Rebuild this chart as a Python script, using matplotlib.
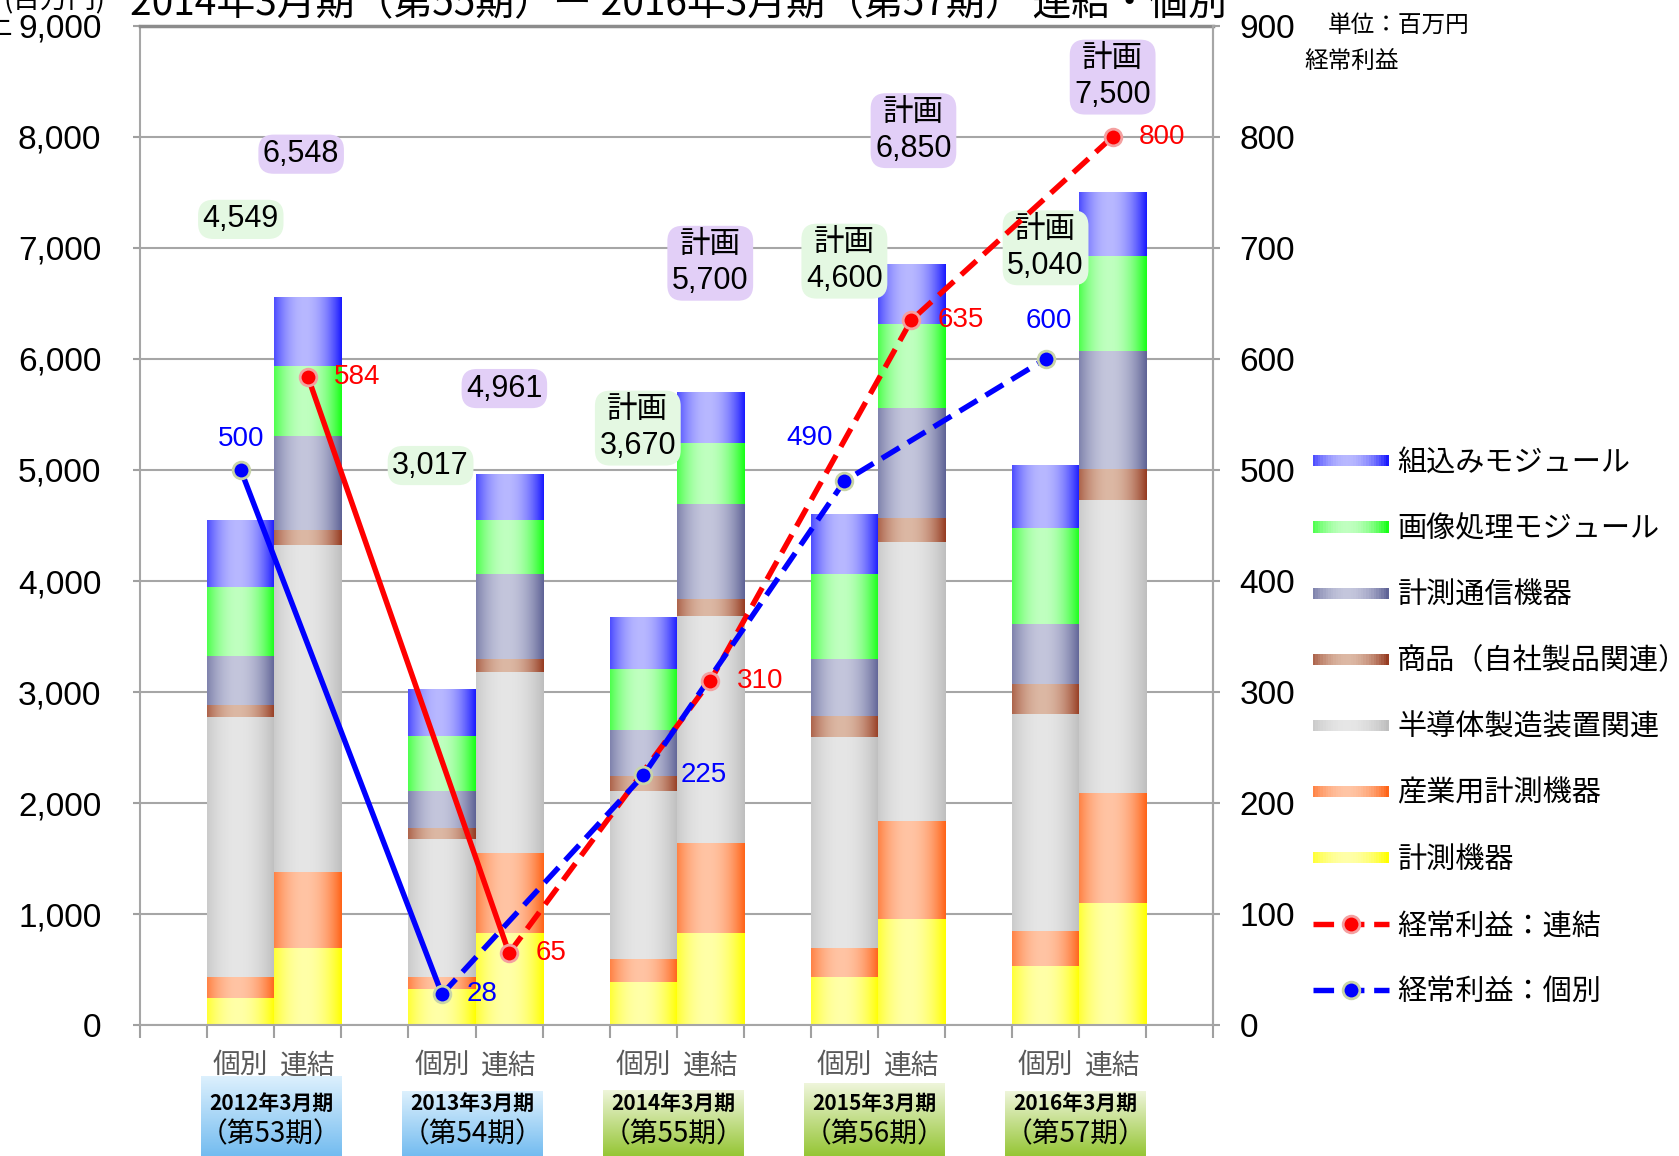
import numpy as np
import matplotlib.pyplot as plt
import matplotlib.colors as mcolors
from matplotlib.patches import Rectangle, Patch
from matplotlib.lines import Line2D
from matplotlib.legend_handler import HandlerBase
from matplotlib.ticker import FuncFormatter

plt.rcParams['font.family'] = ['Noto Sans CJK JP', 'DejaVu Sans']
NUM_FONT = ['Liberation Sans', 'Noto Sans CJK JP']

# Data
periods = ['2012年3月期', '2013年3月期', '2014年3月期', '2015年3月期', '2016年3月期']
terms = ['（第53期）', '（第54期）', '（第55期）', '（第56期）', '（第57期）']
kinds = ['個別', '連結']
segment_names = ['計測機器', '産業用計測機器', '半導体製造装置関連', '商品（自社製品関連）',
                 '計測通信機器', '画像処理モジュール', '組込みモジュール']

# 売上高 (百万円), 個別 = kb, 連結 = rk, stacked from bottom
kb_keisoku = [242, 328, 391, 439, 536]
rk_keisoku = [701, 833, 834, 955, 1099]
kb_sangyo = [193, 107, 209, 254, 318]
rk_sangyo = [681, 715, 809, 885, 995]
kb_handotai = [2340, 1244, 1510, 1905, 1953]
rk_handotai = [2941, 1631, 2038, 2510, 2638]
kb_shohin = [107, 101, 133, 189, 270]
rk_shohin = [134, 121, 153, 221, 278]
kb_tsushin = [442, 328, 415, 511, 540]
rk_tsushin = [851, 760, 858, 983, 1065]
kb_gazo = [626, 494, 548, 770, 857]
rk_gazo = [626, 487, 552, 756, 855]
kb_kumikomi = [599, 415, 464, 532, 566]
rk_kumikomi = [614, 414, 456, 540, 570]

kb_total = [4549, 3017, 3670, 4600, 5040]
rk_total = [6548, 4961, 5700, 6850, 7500]
is_plan = [False, False, True, True, True]

# 経常利益 (百万円)
profit_rk = [584, 65, 310, 635, 800]
profit_kb = [500, 28, 225, 490, 600]

# Styles
seg_colors = [('#ffff00', '#ffffa8'), ('#ff6418', '#ffc4a4'), ('#bebebe', '#e6e6e6'),
              ('#963c22', '#dcb8a4'), ('#5f6396', '#c4c6dc'), ('#18ff18', '#c0ffc0'),
              ('#1a1aff', '#b8b8ff')]
kb_label_y = [7256, 5040, 5377, 6880, 7000]
rk_label_y = [7843, 5733, 6861, 8055, 8537]
kb_label_dx = [0, -0.17, -0.08, 0, 0]
rk_label_dx = [-0.1, -0.07, 0, 0.03, 0]
kb_offsets = [((0, 22), 'center'), ((18, 0), 'left'), ((27, 0), 'left'),
              ((-25, 31), 'center'), ((2, 27), 'center')]
box_top = [0.069, 0.056, 0.057, 0.063, 0.056]


def grad(edge, centre, n=64):
    t = np.linspace(0, 1, n)
    w = np.clip(1 - ((t - 0.45) / 0.55) ** 2, 0, 1)
    e = np.array(mcolors.to_rgb(edge))
    c = np.array(mcolors.to_rgb(centre))
    return e[None, :] * (1 - w[:, None]) + c[None, :] * w[:, None]


class GradientHandler(HandlerBase):
    def __init__(self, edge, centre):
        super().__init__()
        self.g = grad(edge, centre, 30)

    def create_artists(self, legend, orig_handle, xdescent, ydescent, width, height, fontsize, trans):
        n = len(self.g)
        h = height * 0.55
        y0 = -ydescent + (height - h) / 2
        arts = []
        for i, c in enumerate(self.g):
            arts.append(Rectangle((-xdescent + i * width / n, y0), width / n * 1.05, h,
                                  facecolor=c, edgecolor='none', transform=trans))
        return arts


fig = plt.figure(figsize=(16.79, 11.56), dpi=100)
ax = fig.add_axes([0.0835, 0.113, 0.6391, 0.8648])

grp = np.arange(5)
x_kb = 3 * grp + 1.5
x_rk = 3 * grp + 2.5

kb_series = [kb_keisoku, kb_sangyo, kb_handotai, kb_shohin, kb_tsushin, kb_gazo, kb_kumikomi]
rk_series = [rk_keisoku, rk_sangyo, rk_handotai, rk_shohin, rk_tsushin, rk_gazo, rk_kumikomi]

for xs, series in [(x_kb, kb_series), (x_rk, rk_series)]:
    bottom = np.zeros(5)
    for vals, (edge, centre) in zip(series, seg_colors):
        vals = np.array(vals)
        bars = ax.bar(xs, vals, width=1.0, bottom=bottom, color=centre, edgecolor='none', zorder=2)
        g = grad(edge, centre)
        for p in bars:
            ax.imshow(g[None, :, :], extent=[p.get_x(), p.get_x() + p.get_width(),
                                             p.get_y(), p.get_y() + p.get_height()],
                      aspect='auto', interpolation='bilinear', zorder=2.1)
        bottom += vals

# total labels
for i in range(5):
    pre = '計画\n' if is_plan[i] else ''
    ax.text(x_kb[i] + kb_label_dx[i], kb_label_y[i], pre + f'{kb_total[i]:,}', ha='center', va='center',
            fontsize=22, family=NUM_FONT, linespacing=1.25, zorder=5,
            bbox=dict(boxstyle='round,pad=0.15,rounding_size=0.5', fc='#e4f8e2', ec='none'))
    ax.text(x_rk[i] + rk_label_dx[i], rk_label_y[i], pre + f'{rk_total[i]:,}', ha='center', va='center',
            fontsize=22, family=NUM_FONT, linespacing=1.25, zorder=5,
            bbox=dict(boxstyle='round,pad=0.15,rounding_size=0.5', fc='#e2cff7', ec='none'))

ax.set_xlim(0, 16)
ax.set_ylim(0, 9000)
ax.set_axisbelow(True)
ax.yaxis.grid(True, color='#a6a6a6', lw=1.5)
ax.set_yticks(range(0, 9001, 1000))
ax.yaxis.set_major_formatter(FuncFormatter(lambda v, p: f'{int(v):,}'))
ax.set_xticks(range(0, 17))
ax.set_xticklabels([])
ax.set_xticks(np.ravel(np.column_stack([x_kb, x_rk])), minor=True)
ax.set_xticklabels(kinds * 5, minor=True)
ax.tick_params(axis='x', which='major', length=9, width=1.5, color='#a0a0a0')
ax.tick_params(axis='x', which='minor', length=0, pad=18, labelsize=20, labelcolor='#595959')
ax.tick_params(axis='y', length=5, width=1.5, color='#a0a0a0', pad=23, labelsize=24)
for lab in ax.get_yticklabels():
    lab.set_family(NUM_FONT)
for s in ['left', 'right', 'bottom']:
    ax.spines[s].set_color('#a6a6a6')
    ax.spines[s].set_linewidth(1.5)
ax.spines['top'].set_color('#8c8c8c')
ax.spines['top'].set_linewidth(2.5)

# profit lines on secondary axis
ax2 = ax.twinx()
ax2.set_ylim(0, 900)
ax2.set_yticks(range(0, 901, 100))
ax2.tick_params(axis='y', length=5, width=1.5, color='#a0a0a0', pad=14, labelsize=24)
for lab in ax2.get_yticklabels():
    lab.set_family(NUM_FONT)
for s in ['left', 'top', 'bottom']:
    ax2.spines[s].set_visible(False)
ax2.spines['right'].set_color('#a6a6a6')
ax2.spines['right'].set_linewidth(1.5)

dash = (0, (3.8, 1.8))
for xs, ys, col, mec in [(x_rk, profit_rk, '#ff0000', '#f4a0a0'), (x_kb, profit_kb, '#0000ff', '#c8d4a8')]:
    ax2.plot(xs[:2], ys[:2], color=col, lw=3.9, solid_capstyle='round', zorder=3)
    ax2.plot(xs[1:], ys[1:], color=col, lw=3.9, ls=dash, zorder=3)
for xs, ys, col, mec in [(x_rk, profit_rk, '#ff0000', '#f4a0a0'), (x_kb, profit_kb, '#0000ff', '#c8d4a8')]:
    ax2.plot(xs, ys, 'o', color=col, ms=12, mec=mec, mew=2, zorder=4)

for i in range(5):
    ax2.annotate(f'{profit_rk[i]}', (x_rk[i], profit_rk[i]), xytext=(19, 0), textcoords='offset points',
                 ha='left', va='center', color='#ff0000', fontsize=20, family=NUM_FONT)
    off, ha = kb_offsets[i]
    ax2.annotate(f'{profit_kb[i]}', (x_kb[i], profit_kb[i]), xytext=off, textcoords='offset points',
                 ha=ha, va='center', color='#0000ff', fontsize=20, family=NUM_FONT)

# legend
handles = []
hmap = {}
for name, (edge, centre) in reversed(list(zip(segment_names, seg_colors))):
    p = Patch(facecolor=centre, label=name)
    handles.append(p)
    hmap[p] = GradientHandler(edge, centre)
handles.append(Line2D([], [], color='#ff0000', lw=3.9, ls=dash, marker='o', ms=12,
                      mec='#f4a0a0', mew=2, label='経常利益：連結'))
handles.append(Line2D([], [], color='#0000ff', lw=3.9, ls=dash, marker='o', ms=12,
                      mec='#c8d4a8', mew=2, label='経常利益：個別'))
fig.legend(handles=handles, handler_map=hmap, loc='center left', bbox_to_anchor=(0.775, 0.3705),
           frameon=False, fontsize=21, handlelength=2.6, handletextpad=0.3, labelspacing=1.24,
           numpoints=1, borderaxespad=0)

# period boxes under the axis
to_fig = ax.transData + fig.transFigure.inverted()
for i in range(5):
    fx0 = to_fig.transform((3 * i + 0.9, 0))[0]
    fx1 = to_fig.transform((3 * i + 3.0, 0))[0]
    bax = fig.add_axes([fx0, 0, fx1 - fx0, box_top[i]])
    if i < 2:
        top_c, bot_c = '#dcf0fd', '#74bcf0'
    else:
        top_c, bot_c = '#eef5da', '#96c636'
    t = np.linspace(0, 1, 50)[:, None]
    g = np.array(mcolors.to_rgb(top_c)) * (1 - t) + np.array(mcolors.to_rgb(bot_c)) * t
    bax.imshow(g[:, None, :], aspect='auto', extent=[0, 1, 0, 1], interpolation='bilinear')
    bax.axis('off')
    cx = (fx0 + fx1) / 2
    fig.text(cx, 0.0454, periods[i], ha='center', va='center', fontsize=15, fontweight='bold')
    fig.text(cx, 0.0185, terms[i], ha='center', va='center', fontsize=20)

# titles and units
fig.text(0.404, 0.987, '2014年3月期（第55期）ー 2016年3月期（第57期） 連結・個別',
         ha='center', va='baseline', fontsize=28)
fig.text(0.063, 0.993, '(百万円)', ha='right', va='baseline', fontsize=20)
fig.text(0.008, 0.978, '売上', ha='right', va='center', fontsize=20)
fig.text(0.791, 0.978, '単位：百万円', ha='left', va='center', fontsize=17)
fig.text(0.777, 0.947, '経常利益', ha='left', va='center', fontsize=17)

fig.savefig('out.png', dpi=100)
